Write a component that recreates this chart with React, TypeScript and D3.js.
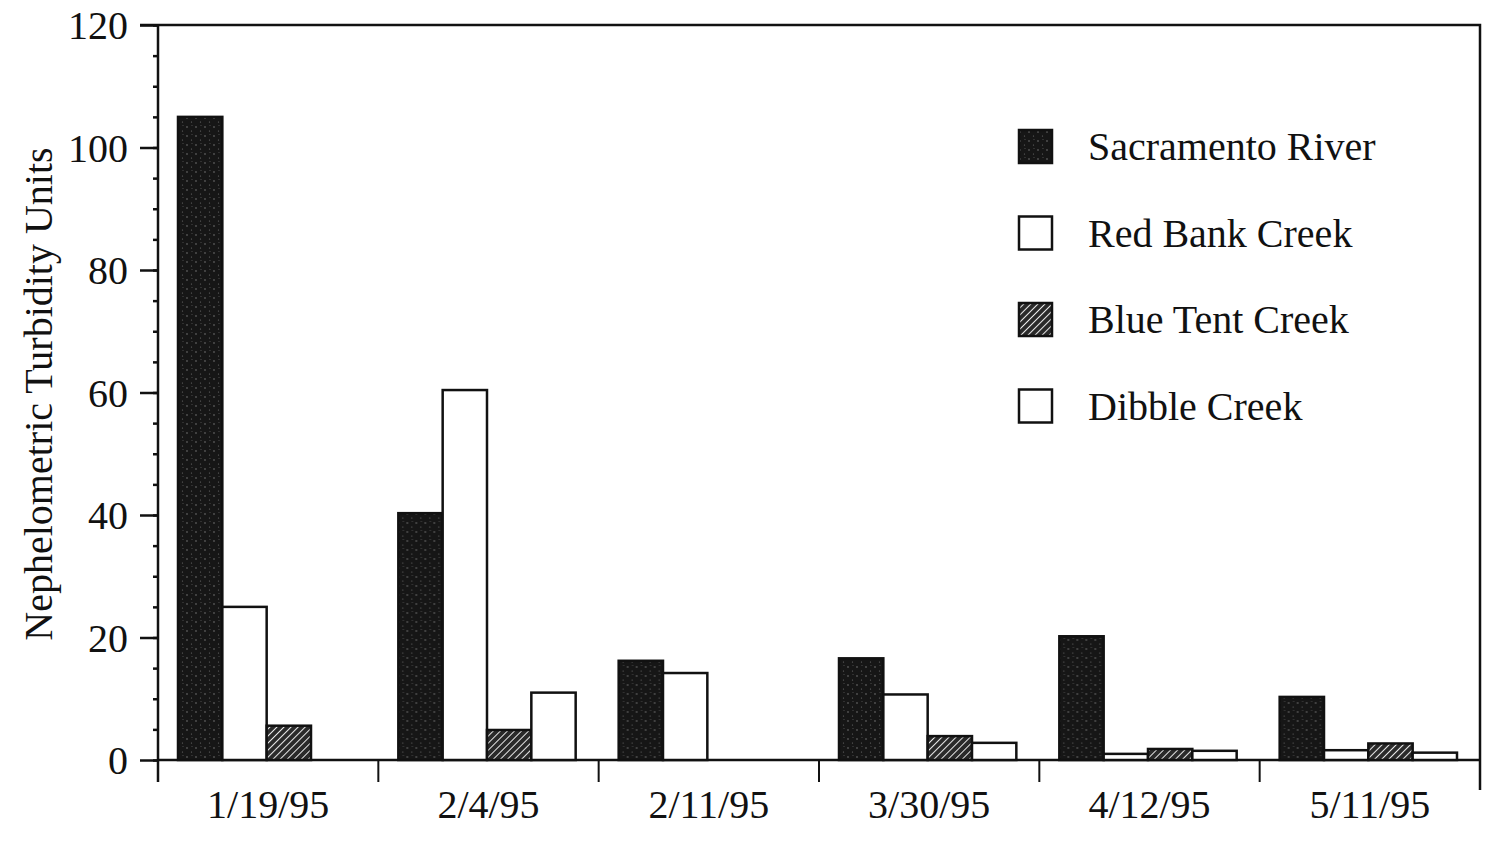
import React, { useEffect, useRef } from "react";
import * as d3 from "d3";

const WIDTH = 1487;
const HEIGHT = 848;
const MARGIN = { top: 25, right: 7, bottom: 88, left: 158 };

const dates = ["1/19/95", "2/4/95", "2/11/95", "3/30/95", "4/12/95", "5/11/95"];
const seriesNames = ["Sacramento River", "Red Bank Creek", "Blue Tent Creek", "Dibble Creek"];
const sacramento = [105, 40.3, 16.2, 16.6, 20.2, 10.3];
const redBank = [25, 60.4, 14.2, 10.7, 1, 1.6];
const blueTent = [5.6, 4.9, 0, 3.9, 1.8, 2.7];
const dibble = [0, 11, 0, 2.8, 1.5, 1.2];
const yTicks = [0, 20, 40, 60, 80, 100, 120];

const seriesValues = [sacramento, redBank, blueTent, dibble];
const fills = ["url(#speckle)", "#fff", "url(#hatch)", "#fff"];
const FONT = "'Liberation Serif', 'DejaVu Serif', serif";

export default function App() {
  const axesRef = useRef<SVGGElement>(null);
  const boundsWidth = WIDTH - MARGIN.left - MARGIN.right;
  const boundsHeight = HEIGHT - MARGIN.top - MARGIN.bottom;

  const xScale = d3.scaleBand().domain(dates).range([0, boundsWidth]).padding(0);
  const inner = d3
    .scaleBand()
    .domain(seriesNames)
    .range([20, xScale.bandwidth() - 23])
    .padding(0);
  const yScale = d3.scaleLinear().domain([0, 120]).range([boundsHeight, 0]);

  useEffect(() => {
    const g = d3.select(axesRef.current);
    g.selectAll("*").remove();

    // minor y ticks every 5
    g.append("g")
      .call(
        d3.axisLeft(yScale).tickValues(d3.range(0, 121, 5)).tickSize(5).tickFormat(() => "")
      )
      .call((s) => s.select(".domain").remove());

    const yAxis = g
      .append("g")
      .call(d3.axisLeft(yScale).tickValues(yTicks).tickSize(18).tickPadding(12));
    yAxis.select(".domain").attr("d", `M0,${boundsHeight + 22}V0`);
    yAxis
      .selectAll("text")
      .attr("font-family", FONT)
      .attr("font-size", 40)
      .attr("fill", "#111")
      .attr("dy", "0.34em");

    const xAxis = g
      .append("g")
      .attr("transform", `translate(0,${boundsHeight})`)
      .call(d3.axisBottom(xScale).tickSize(0).tickPadding(30));
    xAxis.select(".domain").remove();
    xAxis
      .selectAll("text")
      .attr("font-family", FONT)
      .attr("font-size", 40)
      .attr("fill", "#111")
      .attr("dy", "0.71em");

    g.selectAll("line, path").attr("stroke", "#111").attr("stroke-width", 2.5);
  }, []);

  const boundaries = dates.map((d) => xScale(d) as number).concat([boundsWidth]);

  return (
    <svg
      width={WIDTH}
      height={HEIGHT}
      style={{ position: "absolute", left: 0, top: 0, background: "#fff" }}
    >
      <defs>
        <pattern id="speckle" width="9" height="9" patternUnits="userSpaceOnUse">
          <rect width="9" height="9" fill="#161616" />
          <circle cx="2" cy="3" r="0.7" fill="#8a8a8a" />
          <circle cx="6.5" cy="7" r="0.6" fill="#6e6e6e" />
          <circle cx="7" cy="1.5" r="0.5" fill="#5a5a5a" />
        </pattern>
        <pattern
          id="hatch"
          width="5"
          height="5"
          patternUnits="userSpaceOnUse"
          patternTransform="rotate(45)"
        >
          <rect width="5" height="5" fill="#2a2a2a" />
          <line x1="0" y1="0" x2="0" y2="5" stroke="#e8e8e8" strokeWidth="2" />
        </pattern>
      </defs>

      <g transform={`translate(${MARGIN.left},${MARGIN.top})`}>
        {/* frame: top and right */}
        <path
          d={`M-18,0H${boundsWidth}V${boundsHeight + 30}`}
          fill="none"
          stroke="#111"
          strokeWidth={2.5}
        />
        {/* baseline and category ticks */}
        <line x1={0} x2={boundsWidth} y1={boundsHeight} y2={boundsHeight} stroke="#111" strokeWidth={2.5} />
        {boundaries.slice(1, -1).map((b, i) => (
          <line key={i} x1={b} x2={b} y1={boundsHeight} y2={boundsHeight + 22} stroke="#111" strokeWidth={2} />
        ))}

        {dates.map((d, i) => (
          <g key={d} transform={`translate(${xScale(d)},0)`}>
            {seriesNames.map((s, j) => {
              const v = seriesValues[j][i];
              return (
                <rect
                  key={s}
                  x={inner(s)}
                  y={yScale(v)}
                  width={inner.bandwidth()}
                  height={boundsHeight - yScale(v)}
                  fill={fills[j]}
                  stroke="#111"
                  strokeWidth={2.5}
                />
              );
            })}
          </g>
        ))}

        <g ref={axesRef} />
      </g>

      <text
        transform="translate(52,394) rotate(-90)"
        textAnchor="middle"
        fontFamily={FONT}
        fontSize={40}
        fill="#111"
      >
        Nephelometric Turbidity Units
      </text>

      <g transform="translate(1018,129)">
        {seriesNames.map((s, i) => (
          <g key={s} transform={`translate(0,${i * 86.5})`}>
            <rect
              x={1}
              y={1}
              width={33}
              height={33}
              fill={fills[i]}
              stroke="#111"
              strokeWidth={2.5}
            />
            <text x={70} y={31} fontFamily={FONT} fontSize={40} fill="#111">
              {s}
            </text>
          </g>
        ))}
      </g>
    </svg>
  );
}
